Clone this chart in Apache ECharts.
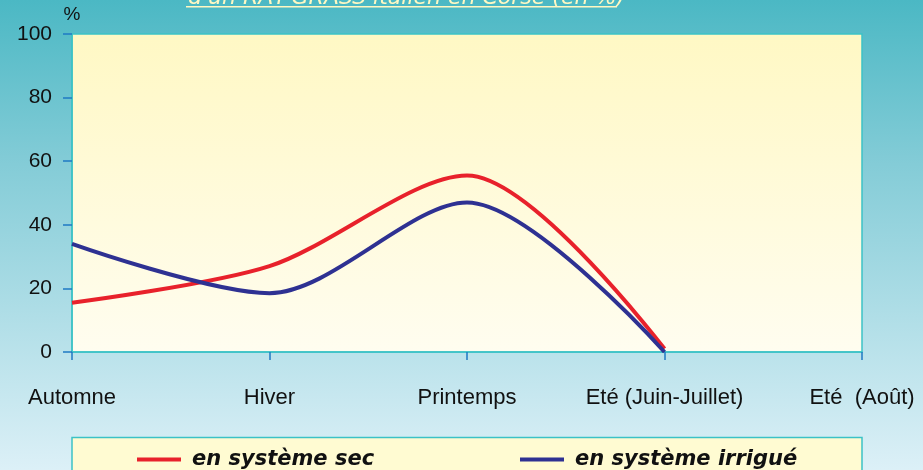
<!DOCTYPE html>
<html>
<head>
<meta charset="utf-8">
<script src="https://cdn.jsdelivr.net/npm/echarts@6/dist/echarts.min.js"></script>
<style>
  html, body { margin: 0; padding: 0; }
  #main { width: 923px; height: 470px; }
</style>
</head>
<body>
<div id="main"></div>
<script>
// saisons (axe x)
var saisons = ["Automne", "Hiver", "Printemps", "Eté (Juin-Juillet)", "Eté  (Août)"];
// % de la production
var systemeSec = [15.5, 27, 55.5, 1, null];
var systemeIrrigue = [34, 18.5, 47, 0, null];
var yTicks = [0, 20, 40, 60, 80, 100];

var chart = echarts.init(document.getElementById("main"));

var teal = "#3cc2c6";
var tickBlue = "#1f7ac4";

chart.setOption({
  animation: false,
  backgroundColor: new echarts.graphic.LinearGradient(0, 0, 0, 1, [
    { offset: 0, color: "#4bb8c4" },
    { offset: 0.35, color: "#84ccd7" },
    { offset: 1, color: "#dcf0f7" }
  ]),
  graphic: [
    // titre (coupé en haut)
    {
      type: "text",
      x: 188,
      y: 9,
      style: {
        text: "d'un RAY-GRASS italien en Corse (en %)",
        fill: "#fff8c2",
        font: "italic 22px 'DejaVu Sans'",
        verticalAlign: "bottom"
      }
    },
    {
      type: "rect",
      shape: { x: 186, y: 6, width: 431, height: 1.5 },
      style: { fill: "#fff8c2" }
    },
    // cadre de la légende
    {
      type: "rect",
      shape: { x: 72, y: 437.5, width: 790, height: 40 },
      style: { fill: "#fffbd2", stroke: teal, lineWidth: 1.5 }
    }
  ],
  legend: [
    {
      left: 132,
      top: 444,
      data: ["en système sec"],
      icon: "rect",
      itemWidth: 44,
      itemHeight: 4,
      textStyle: { fontFamily: "DejaVu Sans", fontStyle: "italic", fontWeight: "bold", fontSize: 21, color: "#111", padding: [0, 0, 0, 6] }
    },
    {
      left: 515,
      top: 444,
      data: ["en système irrigué"],
      icon: "rect",
      itemWidth: 44,
      itemHeight: 4,
      textStyle: { fontFamily: "DejaVu Sans", fontStyle: "italic", fontWeight: "bold", fontSize: 21, color: "#111", padding: [0, 0, 0, 6] }
    }
  ],
  grid: {
    left: 72,
    right: 61,
    top: 34,
    bottom: 118,
    show: true,
    borderColor: teal,
    borderWidth: 1.5,
    backgroundColor: new echarts.graphic.LinearGradient(0, 0, 0, 1, [
      { offset: 0, color: "#fff8c4" },
      { offset: 1, color: "#fffdf0" }
    ])
  },
  xAxis: {
    type: "category",
    data: saisons,
    boundaryGap: false,
    axisLine: { lineStyle: { color: teal, width: 1.5 } },
    axisTick: { length: 8, lineStyle: { color: tickBlue, width: 1.5 } },
    axisLabel: {
      color: "#111",
      fontFamily: "Liberation Sans",
      fontSize: 22,
      margin: 35,
      interval: 0
    },
    splitLine: { show: false }
  },
  yAxis: {
    type: "value",
    min: yTicks[0],
    max: yTicks[yTicks.length - 1],
    interval: 20,
    name: "%",
    nameLocation: "end",
    nameGap: 10,
    nameTextStyle: { color: "#111", fontFamily: "Liberation Sans", fontSize: 19, align: "center" },
    axisLine: { show: true, lineStyle: { color: teal, width: 1.5 } },
    axisTick: { show: true, length: 9, lineStyle: { color: tickBlue, width: 1.5 } },
    axisLabel: { color: "#111", fontFamily: "Liberation Sans", fontSize: 21, margin: 20 },
    splitLine: { show: false }
  },
  series: [
    {
      name: "en système sec",
      type: "line",
      data: systemeSec,
      smooth: 0.3,
      showSymbol: false,
      symbol: "none",
      color: "#e8212b",
      lineStyle: { width: 4, color: "#e8212b" }
    },
    {
      name: "en système irrigué",
      type: "line",
      data: systemeIrrigue,
      smooth: 0.3,
      showSymbol: false,
      symbol: "none",
      color: "#2e3192",
      lineStyle: { width: 4, color: "#2e3192" }
    }
  ]
});
</script>
</body>
</html>
